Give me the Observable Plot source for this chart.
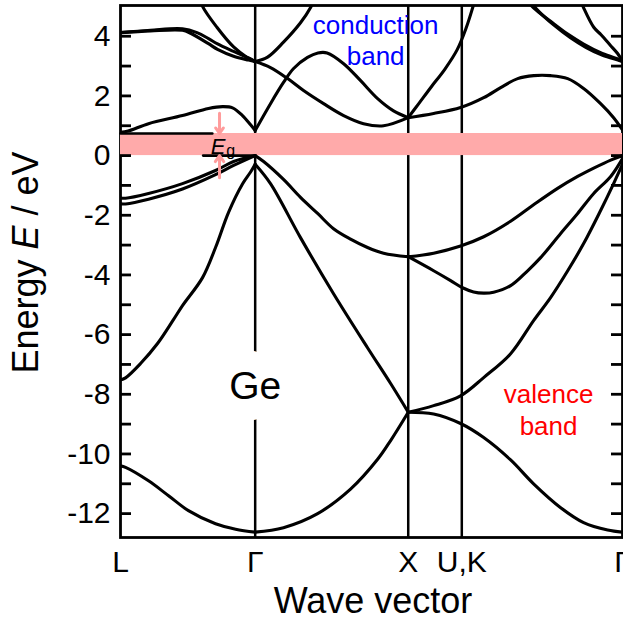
<!DOCTYPE html>
<html>
<head>
<meta charset="utf-8">
<script src="https://cdn.jsdelivr.net/npm/d3@7"></script>
<script src="https://cdn.jsdelivr.net/npm/@observablehq/plot@0.6"></script>
<style>
  html, body { margin: 0; padding: 0; background: #fff; }
  #chart svg { display: block; }
</style>
</head>
<body>
<div id="chart"></div>
<script>
// k path through the Brillouin zone: L – Γ – X – U,K – Γ
const kPoints = [0, 0.88, 1.88, 2.23, 3.28];
const kLabels = ["L", "Γ", "X", "U,K", "Γ"];
const yTickLabels = [-12, -10, -8, -6, -4, -2, 0, 2, 4];
const yMinorTicks = d3.range(-12, 5);
const energyDomain = [-12.8, 5.03];
const gapRange = [0, 0.74]; // valence-band top to conduction-band minimum at L

// Bands of germanium, [k, E in eV]
// L → Γ
const lgV1 = [[0,-10.4],[0.033,-10.45],[0.183,-10.9],[0.314,-11.4],[0.444,-11.9],[0.621,-12.34],[0.752,-12.52],[0.88,-12.62]];
const lgV2 = [[0,-7.52],[0.033,-7.45],[0.131,-6.97],[0.242,-6.3],[0.346,-5.5],[0.405,-5.03],[0.536,-4.09],[0.621,-3.08],[0.706,-1.9],[0.797,-0.95],[0.85,-0.55],[0.88,-0.29]];
const lgV3 = [[0,-1.42],[0.033,-1.43],[0.183,-1.27],[0.405,-0.94],[0.621,-0.5],[0.739,-0.2],[0.88,0]];
const lgV4 = [[0,-1.62],[0.033,-1.62],[0.183,-1.46],[0.405,-1.12],[0.621,-0.64],[0.739,-0.33],[0.88,0]];
const lgC1 = [[0,0.78],[0.05,0.82],[0.183,1.07],[0.405,1.34],[0.575,1.58],[0.667,1.64],[0.732,1.6],[0.797,1.34],[0.85,1.03],[0.88,0.84]];
const lgC2 = [[0,4.12],[0.196,4.2],[0.405,4.25],[0.5,4.12],[0.575,3.92],[0.634,3.74],[0.739,3.49],[0.837,3.27],[0.88,3.15]];
const lgC3 = [[0,4.12],[0.196,4.18],[0.405,4.2],[0.458,4.1],[0.575,3.75],[0.634,3.56],[0.739,3.33],[0.837,3.2],[0.88,3.15]];
const lgC4 = [[0.51,5.4],[0.536,5.0],[0.63,4.3],[0.739,3.64],[0.83,3.28],[0.88,3.15]];
// Γ → X
const gxV1 = [[0.88,-12.62],[1.065,-12.47],[1.288,-12.0],[1.503,-11.18],[1.68,-10.18],[1.765,-9.55],[1.88,-8.6]];
const gxV2 = [[0.88,-0.29],[0.98,-0.94],[1.176,-2.75],[1.392,-4.63],[1.614,-6.44],[1.765,-7.64],[1.88,-8.6]];
const gxV3 = [[0.88,0],[0.935,-0.2],[1.065,-0.8],[1.176,-1.4],[1.288,-1.94],[1.392,-2.45],[1.503,-2.8],[1.614,-3.08],[1.719,-3.27],[1.88,-3.39]];
const gxC1 = [[0.88,0.84],[0.98,1.74],[1.065,2.45],[1.131,2.92],[1.222,3.29],[1.29,3.44],[1.35,3.44],[1.458,3.08],[1.569,2.51],[1.68,1.91],[1.784,1.5],[1.88,1.27]];
const gxC2 = [[0.88,3.15],[0.98,2.95],[1.092,2.58],[1.196,2.18],[1.327,1.74],[1.458,1.34],[1.588,1.07],[1.719,1.0],[1.88,1.27]];
const gxC3 = [[0.88,3.15],[0.961,3.3],[1.065,3.8],[1.176,4.45],[1.242,4.96],[1.27,5.3]];
// X → U,K → Γ
const xkC1 = [[1.88,1.27],[1.95,1.75],[2.03,2.3],[2.12,2.9],[2.2,3.55],[2.26,4.3],[2.31,5.1],[2.33,5.4]];
const xkC2 = [[1.88,1.27],[2.046,1.41],[2.222,1.61],[2.373,1.94],[2.484,2.28],[2.595,2.58],[2.7,2.68],[2.81,2.68],[2.922,2.58],[3.026,2.25],[3.137,1.74],[3.222,1.27],[3.28,0.86]];
const kgC3 = [[2.64,5.3],[2.699,4.95],[2.81,4.5],[2.922,4.07],[3.026,3.74],[3.137,3.45],[3.248,3.24],[3.28,3.15]];
const kgC4 = [[2.66,5.3],[2.72,4.9],[2.83,4.38],[2.94,3.95],[3.04,3.63],[3.15,3.36],[3.25,3.2],[3.28,3.15]];
const kgC5 = [[2.99,5.4],[3.026,4.95],[3.092,4.3],[3.14,4.05],[3.2,3.7],[3.248,3.42],[3.28,3.15]];
const xkV1 = [[1.88,-3.39],[2.046,-3.27],[2.222,-3.03],[2.373,-2.72],[2.549,-2.2],[2.699,-1.65],[2.856,-1.1],[2.987,-0.7],[3.092,-0.42],[3.203,-0.15],[3.28,0]];
const xkV2 = [[1.88,-3.39],[2.046,-3.86],[2.157,-4.19],[2.235,-4.43],[2.307,-4.57],[2.373,-4.61],[2.438,-4.58],[2.549,-4.36],[2.66,-3.86],[2.745,-3.42],[2.876,-2.61],[2.987,-1.94],[3.092,-1.27],[3.203,-0.7],[3.28,-0.1]];
const xkV3 = [[1.88,-8.6],[2.046,-8.38],[2.222,-8.05],[2.373,-7.44],[2.549,-6.64],[2.699,-5.53],[2.81,-4.76],[2.922,-3.86],[3.026,-2.95],[3.137,-1.84],[3.222,-0.94],[3.28,-0.29]];
const xkV4 = [[1.88,-8.6],[2.046,-8.66],[2.222,-8.98],[2.373,-9.45],[2.549,-10.2],[2.699,-11.0],[2.876,-11.8],[3.026,-12.3],[3.183,-12.55],[3.28,-12.62]];
// band edges bordering the gap
const edgeCB = [[0,0.74],[0.6,0.74]];
const edgeVB = [[0.54,0],[0.88,0]];

// E_g arrows: [k, from E, to E]
const gapArrows = [[0.647, 1.42, 0.74], [0.647, -0.74, 0.0]];

const bandList = {lgV1, lgV2, lgV3, lgV4, lgC1, lgC2, lgC3, lgC4,
  gxV1, gxV2, gxV3, gxC1, gxC2, gxC3,
  xkC1, xkC2, kgC3, kgC4, kgC5, xkV1, xkV2, xkV3, xkV4};
const bands = Object.entries(bandList).flatMap(([band, pts]) => pts.map(([k, E]) => ({band, k, E})));
const edges = [edgeCB, edgeVB].flatMap((pts, i) => pts.map(([k, E]) => ({edge: i, k, E})));

const labelOf = new Map(kPoints.map((k, i) => [k, kLabels[i]]));
const font = "'Liberation Sans', Arial, Helvetica, sans-serif";
const pink = "#ffaaaa";

const chart = Plot.plot({
  width: 623,
  height: 624,
  marginLeft: 120,
  marginRight: 1,
  marginTop: 5,
  marginBottom: 87,
  style: {fontFamily: font, background: "white", color: "black"},
  x: {domain: [kPoints[0], kPoints[4]]},
  y: {domain: energyDomain},
  marks: [
    Plot.frame({strokeWidth: 2.8}),
    Plot.ruleX(kPoints.slice(1, 4), {strokeWidth: 2.5}),
    Plot.rect([gapRange], {x1: kPoints[0], x2: kPoints[4], y1: d => d[0], y2: d => d[1], fill: pink}),
    Plot.line(bands, {x: "k", y: "E", z: "band", curve: "catmull-rom", stroke: "black", strokeWidth: 3.1, strokeLinecap: "round", clip: true}),
    Plot.line(edges, {x: "k", y: "E", z: "edge", stroke: "black", strokeWidth: 2.6}),
    Plot.arrow(gapArrows, {x1: d => d[0], x2: d => d[0], y1: d => d[1], y2: d => d[2], stroke: "#ff9c9c", strokeWidth: 3, headLength: 9, headAngle: 70}),
    Plot.text(["E"], {x: 0.685, y: 0.3, text: d => d, fontSize: 22, fontStyle: "italic", textAnchor: "end"}),
    Plot.text(["g"], {x: 0.685, y: 0.3, text: d => d, fontSize: 16, textAnchor: "start", dx: 1, dy: 4}),
    Plot.text(["Ge"], {x: kPoints[1], y: -7.74, text: d => d, fontSize: 39, fill: "white", stroke: "white", strokeWidth: 44, strokeLinejoin: "round"}),
    Plot.text(["Ge"], {x: kPoints[1], y: -7.74, text: d => d, fontSize: 39, fill: "black"}),
    Plot.text(["conduction\nband"], {x: 1.667, y: 3.88, text: d => d, fontSize: 26, lineHeight: 1.2, fill: "#0000ff"}),
    Plot.text(["valence\nband"], {x: 2.797, y: -8.47, text: d => d, fontSize: 26, lineHeight: 1.23, fill: "#ff0000"}),
    Plot.axisY(yTickLabels, {anchor: "left", tickSize: 0, tickPadding: 10, fontSize: 30, tickFormat: d => String(d), label: null}),
    Plot.axisY(yMinorTicks, {anchor: "left", tickSize: 11, dx: 11, strokeWidth: 2.8, tickFormat: () => "", label: null}),
    Plot.axisY(yMinorTicks, {anchor: "right", tickSize: 12, dx: -12, strokeWidth: 2.8, tickFormat: () => "", label: null}),
    Plot.axisX(kPoints, {anchor: "bottom", tickSize: 0, tickPadding: 13, fontSize: 30, tickFormat: d => labelOf.get(d), label: null})
  ]
});
document.getElementById("chart").append(chart);

// axis titles
const svg = d3.select(chart.tagName === "svg" ? chart : chart.querySelector("svg"));
const yS = chart.scale("y");
const xS = chart.scale("x");
const yTitle = svg.append("text")
  .attr("transform", `translate(38,${yS.apply(-3.6)}) rotate(-90)`)
  .attr("text-anchor", "middle")
  .attr("font-family", font)
  .attr("font-size", 36)
  .attr("fill", "black");
yTitle.append("tspan").text("Energy ");
yTitle.append("tspan").attr("font-style", "italic").text("E");
yTitle.append("tspan").text(" / eV");

svg.append("text")
  .attr("x", (xS.apply(kPoints[0]) + xS.apply(kPoints[4])) / 2 + 2)
  .attr("y", 613)
  .attr("text-anchor", "middle")
  .attr("font-family", font)
  .attr("font-size", 36)
  .attr("fill", "black")
  .text("Wave vector");
</script>
</body>
</html>
